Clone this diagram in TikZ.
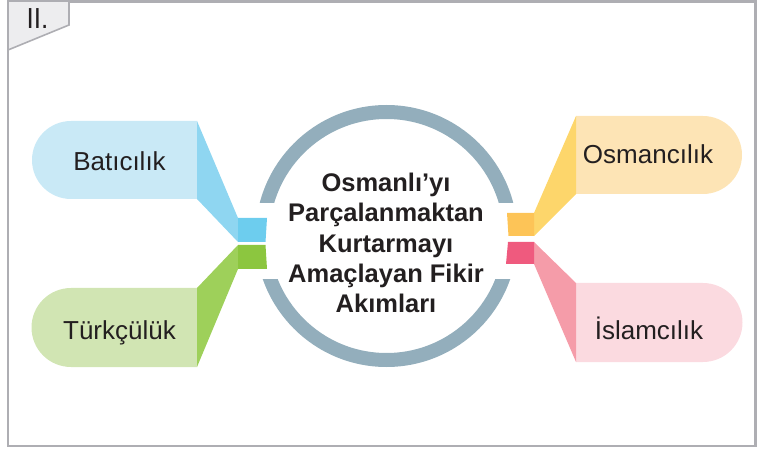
\documentclass[tikz,border=0pt]{standalone}
\usepackage{fontspec}
\setmainfont{Liberation Sans}
\definecolor{ringc}{HTML}{93AEBC}
\definecolor{framec}{HTML}{AEAEB3}
\definecolor{tabc}{HTML}{EDEDEF}
\definecolor{txt}{HTML}{231F20}
\definecolor{bluebub}{HTML}{C9E9F6}
\definecolor{bluewed}{HTML}{8FD6F1}
\definecolor{bluesq}{HTML}{6DCDEE}
\definecolor{greenbub}{HTML}{D1E5B3}
\definecolor{greenwed}{HTML}{9ED05A}
\definecolor{greensq}{HTML}{8CC63F}
\definecolor{orangebub}{HTML}{FDE4B5}
\definecolor{orangewed}{HTML}{FDD66B}
\definecolor{orangesq}{HTML}{FDC457}
\definecolor{pinkbub}{HTML}{FBDAE0}
\definecolor{pinkwed}{HTML}{F59CA9}
\definecolor{pinksq}{HTML}{EF5A7E}
\begin{document}
\begin{tikzpicture}[x=1pt,y=-1pt,
  bubtext/.style={anchor=base,text=txt,font=\fontsize{26}{30}\selectfont,inner sep=0pt},
  titletext/.style={align=center,text=txt,font=\fontsize{25.5}{30.3}\selectfont\bfseries,inner sep=0pt},
  ringstyle/.style={draw=ringc,line width=14pt}]
\useasboundingbox (0,0) rectangle (761,449);
% frame
\draw[framec,line width=2.8pt] (8,1.2) rectangle (755.5,446);
\draw[framec,line width=1.6pt,fill=tabc] (8,1.2) -- (69,1.2) -- (69,25) -- (8,50) -- cycle;
\node[text=txt,font=\fontsize{29}{32}\selectfont,inner sep=0pt,anchor=base,xscale=0.9] (num) at (37.5,28.5) {II.};
% ring
\coordinate (c) at (386.5,236);
\begin{scope}
\clip (0,0) rectangle (761,203);
\draw[ringstyle] (c) circle[radius=124];
\end{scope}
\begin{scope}
\clip (0,280) rectangle (761,449);
\draw[ringstyle] (c) circle[radius=124];
\end{scope}
% left blue
\fill[bluebub] (197,121) -- (71,121) arc[start angle=270,end angle=90,radius=39] -- (197,199) -- cycle;
\fill[bluewed] (197,121) -- (238,218) -- (238,242) -- (197,199) -- cycle;
\fill[bluesq] (238,218) -- (267,218) -- (265.5,242) -- (238,242) -- cycle;
% left green
\fill[greenbub] (197,288) -- (71,288) arc[start angle=270,end angle=90,radius=39.5] -- (197,367) -- cycle;
\fill[greenwed] (197,288) -- (238,245) -- (238,269) -- (197,367) -- cycle;
\fill[greensq] (238,245) -- (265.5,245) -- (267,269) -- (238,269) -- cycle;
% right orange
\fill[orangebub] (576,116) -- (703,116) arc[start angle=-90,end angle=90,radius=39] -- (576,194) -- cycle;
\fill[orangewed] (576,116) -- (534,213) -- (534,236) -- (576,194) -- cycle;
\fill[orangesq] (507,213) -- (534,213) -- (534,236) -- (508.5,236) -- cycle;
% right pink
\fill[pinkbub] (576,283) -- (703,283) arc[start angle=-90,end angle=90,radius=39.5] -- (576,362) -- cycle;
\fill[pinkwed] (534,242) -- (576,283) -- (576,362) -- (534,264) -- cycle;
\fill[pinksq] (508,242) -- (534,242) -- (534,264) -- (506,264) -- cycle;
% texts
\node[bubtext] (bat) at (119.5,171) {Batıcılık};
\node[bubtext] (turk) at (119.5,340) {Türkçülük};
\node[bubtext] (osm) at (648,164) {Osmancılık};
\node[bubtext] (isl) at (649,339) {İslamcılık};
\node[titletext] (title) at (386,243) {Osmanlı’yı\\Parçalanmaktan\\Kurtarmayı\\Amaçlayan Fikir\\Akımları};
\end{tikzpicture}
\end{document}
